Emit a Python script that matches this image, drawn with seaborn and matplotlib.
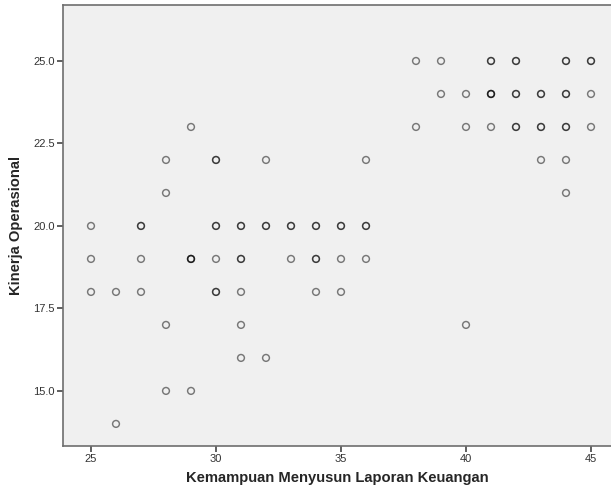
import numpy as np
import pandas as pd
import seaborn as sns
import matplotlib
matplotlib.use("Agg")
import matplotlib.pyplot as plt

# --- Data (n = how many cases overlap at that spot) ---
x_vals = [25, 25, 25, 26, 26, 27, 27, 27, 28, 28, 28, 28, 29, 29, 29,
          30, 30, 30, 30, 31, 31, 31, 31, 31, 32, 32, 32, 33, 33,
          34, 34, 34, 35, 35, 35, 36, 36, 36, 38, 38, 39, 39,
          40, 40, 40, 41, 41, 41, 42, 42, 42, 43, 43, 43,
          44, 44, 44, 44, 44, 45, 45, 45]
y_vals = [20, 19, 18, 18, 14, 20, 19, 18, 22, 21, 17, 15, 23, 19, 15,
          22, 20, 19, 18, 20, 19, 18, 17, 16, 22, 20, 16, 20, 19,
          20, 19, 18, 20, 19, 18, 22, 20, 19, 25, 23, 25, 24,
          24, 23, 17, 25, 24, 23, 25, 24, 23, 24, 23, 22,
          25, 24, 23, 22, 21, 25, 24, 23]
n_vals = [1, 1, 1, 1, 1, 2, 1, 1, 1, 1, 1, 1, 1, 3, 1,
          2, 2, 1, 2, 2, 2, 1, 1, 1, 1, 2, 1, 2, 1,
          2, 2, 1, 2, 1, 1, 1, 2, 1, 1, 1, 1, 1,
          1, 1, 1, 2, 3, 1, 2, 2, 2, 2, 2, 1,
          2, 2, 2, 1, 1, 2, 1, 1]

x_ticks = [25, 30, 35, 40, 45]
y_ticks = [15.0, 17.5, 20.0, 22.5, 25.0]

x_label = "Kemampuan Menyusun Laporan Keuangan"
y_label = "Kinerja Operasional"

df = pd.DataFrame({"x": np.repeat(x_vals, n_vals), "y": np.repeat(y_vals, n_vals)})

sns.set_style("white")
plt.rcParams["font.family"] = ["Liberation Sans", "DejaVu Sans"]

fig = plt.figure(figsize=(6.11, 4.99), dpi=100)
ax = fig.add_axes([0.1031, 0.1062, 0.8969, 0.884])
ax.set_facecolor("#f0f0f0")

sns.scatterplot(data=df, x="x", y="y", ax=ax, marker="o", s=24,
                facecolor="none", edgecolor=(0, 0, 0, 0.5), linewidth=1.05)

ax.set_xlim(23.88, 45.8)
ax.set_ylim(13.33, 26.7)
ax.set_xticks(x_ticks)
ax.set_xticklabels([str(t) for t in x_ticks])
ax.set_yticks(y_ticks)
ax.set_yticklabels([f"{t:.1f}" for t in y_ticks])

for side in ["left", "bottom", "top"]:
    ax.spines[side].set_color("#6e6e6e")
    ax.spines[side].set_linewidth(1.2)
ax.spines["right"].set_visible(False)

ax.tick_params(axis="both", which="both", direction="out", length=4, width=1.2,
               color="#444444", labelsize=8, labelcolor="#333333", pad=2,
               bottom=True, left=True)

ax.set_xlabel(x_label, fontsize=10.6, fontweight="bold", labelpad=5)
ax.set_ylabel(y_label, fontsize=10.6, fontweight="bold", labelpad=7)

fig.savefig("out.png", dpi=100, facecolor="white")
